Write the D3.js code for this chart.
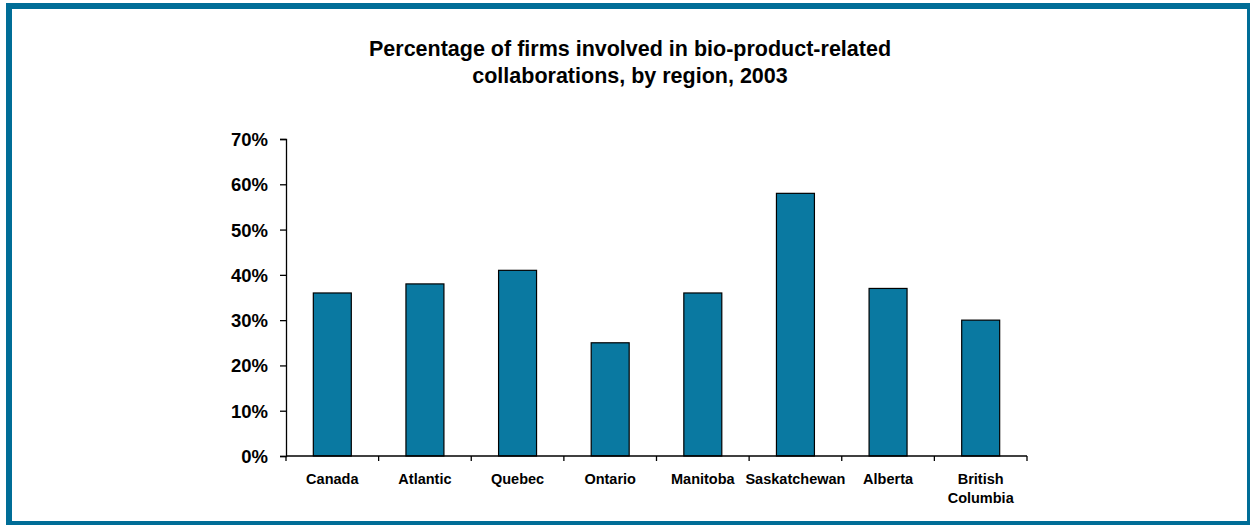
<!DOCTYPE html>
<html>
<head>
<meta charset="utf-8">
<script src="https://cdn.jsdelivr.net/npm/d3@7"></script>
<style>
  html, body { margin: 0; padding: 0; background: #fff; }
  svg { display: block; }
  text { font-family: "Liberation Sans", Arial, sans-serif; font-weight: bold; fill: #000; }
</style>
</head>
<body>
<svg id="chart" width="1250" height="525"></svg>
<script>
// Share of firms in bio-product-related collaborations, 2003
const regions = ["Canada", "Atlantic", "Quebec", "Ontario", "Manitoba", "Saskatchewan", "Alberta", "British Columbia"];
const shares = [36, 38, 41, 25, 36, 58, 37, 30];
const yTicks = [0, 10, 20, 30, 40, 50, 60, 70];
const titleLines = ["Percentage of firms involved in bio-product-related", "collaborations, by region, 2003"];

const W = 1250, H = 525;
const frame = "#006D97";
const barFill = "#0A79A1";

const svg = d3.select("#chart");

// outer frame
svg.append("rect").attr("x", 6).attr("y", 3).attr("width", W - 6).attr("height", 6).attr("fill", frame);
svg.append("rect").attr("x", 6).attr("y", 3).attr("width", 6).attr("height", H - 3).attr("fill", frame);
svg.append("rect").attr("x", 6).attr("y", 521).attr("width", W - 6).attr("height", 4).attr("fill", frame);
svg.append("rect").attr("x", 1247).attr("y", 3).attr("width", 3).attr("height", H - 3).attr("fill", frame);

// title
svg.append("g").selectAll("text").data(titleLines).join("text")
  .attr("x", 630).attr("y", (d, i) => 56 + i * 27)
  .attr("text-anchor", "middle")
  .style("font-size", "21.5px")
  .text(d => d);

const plot = { left: 286, right: 1027, top: 139, bottom: 456 };

const x = d3.scaleBand().domain(regions)
  .range([plot.left, plot.right])
  .paddingInner(0.59).paddingOuter(0.295);

const y = d3.scaleLinear().domain([0, 70]).range([plot.bottom, plot.top]);

// bars
svg.append("g").selectAll("rect").data(regions).join("rect")
  .attr("x", d => x(d))
  .attr("y", (d, i) => y(shares[i]))
  .attr("width", x.bandwidth())
  .attr("height", (d, i) => y(0) - y(shares[i]))
  .attr("fill", barFill)
  .attr("stroke", "#000")
  .attr("stroke-width", 1.2);

// y axis
const yAxis = svg.append("g").attr("transform", `translate(${plot.left},0)`)
  .call(d3.axisLeft(y).tickValues(yTicks).tickFormat(d => d + "%").tickSize(6).tickPadding(12));
yAxis.select(".domain").attr("stroke", "#000").attr("stroke-width", 1.3);
yAxis.selectAll(".tick line").attr("stroke", "#000").attr("stroke-width", 1.3);
yAxis.selectAll(".tick text").style("font-size", "18.5px").attr("dy", "0.35em")
  .style("font-family", "'Liberation Sans', Arial, sans-serif").style("font-weight", "bold");

// x axis: ticks at category boundaries
const step = x.step();
const boundaries = d3.range(regions.length + 1).map(i => plot.left + i * step);
const xg = svg.append("g");
xg.append("line").attr("x1", plot.left).attr("x2", plot.right)
  .attr("y1", plot.bottom).attr("y2", plot.bottom)
  .attr("stroke", "#000").attr("stroke-width", 1.3);
xg.selectAll("line.tk").data(boundaries).join("line").attr("class", "tk")
  .attr("x1", d => d).attr("x2", d => d)
  .attr("y1", plot.bottom).attr("y2", plot.bottom + 5)
  .attr("stroke", "#000").attr("stroke-width", 1.3);

// category labels (wrap two-word long names)
const labels = xg.selectAll("text").data(regions).join("text")
  .attr("text-anchor", "middle")
  .style("font-size", "14.5px");
labels.each(function (d) {
  const parts = d === "British Columbia" ? ["British", "Columbia"] : [d];
  const t = d3.select(this);
  parts.forEach((p, i) => {
    t.append("tspan")
      .attr("x", x(d) + x.bandwidth() / 2)
      .attr("y", 484 + i * 19)
      .text(p);
  });
});
</script>
</body>
</html>
